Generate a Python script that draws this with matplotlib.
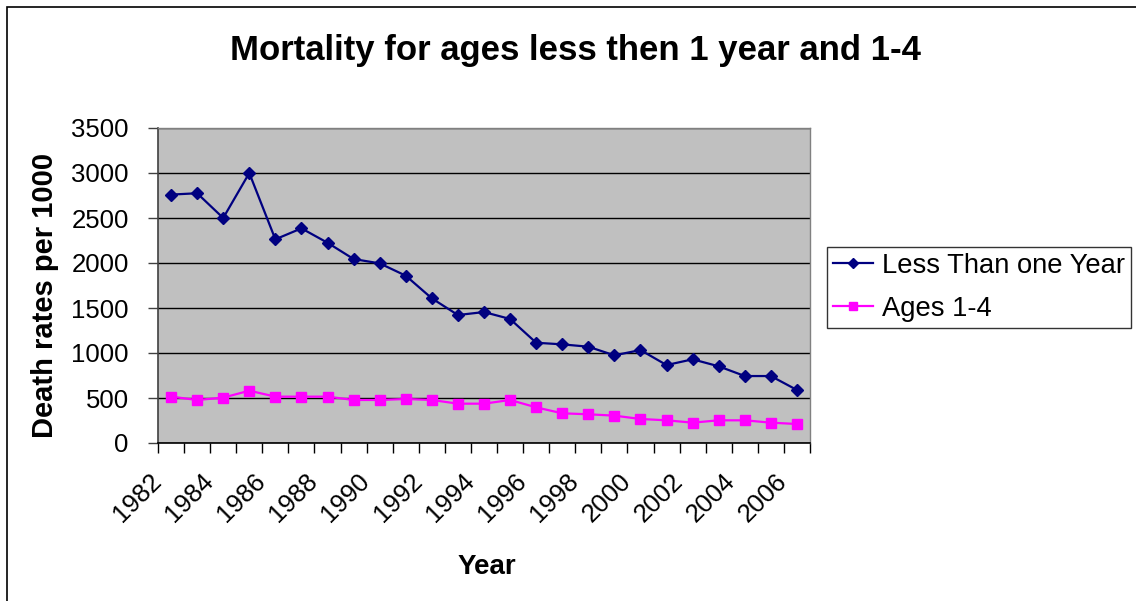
"""Mortality chart: less than 1 year vs ages 1-4 (Excel-style line chart)"""

import numpy as np
import matplotlib
matplotlib.use("Agg")
import matplotlib.pyplot as plt
import matplotlib.transforms as mtransforms
from matplotlib.patches import Rectangle

plt.rcParams.update({
    "font.family": ["Liberation Sans", "DejaVu Sans"],
    "font.size": 18,
})

# ── Data ────────────────────────────────────────────────────────────────────

YEARS = list(range(1982, 2007))

LESS_THAN_ONE = [
    2760, 2775, 2500, 3000, 2263, 2385, 2225, 2044, 1996, 1859,
    1607, 1422, 1455, 1378, 1114, 1096, 1070, 974, 1033, 866,
    930, 852, 744, 744, 589,
]

AGES_1_4 = [
    515, 478, 504, 581, 515, 515, 515, 478, 478, 489,
    478, 437, 437, 478, 396, 330, 319, 304, 267, 252,
    226, 252, 252, 226, 211,
]

Y_TICKS = [0, 500, 1000, 1500, 2000, 2500, 3000, 3500]

W, H = 1136, 601


def main() -> None:
    fig = plt.figure(figsize=(W / 100, H / 100), dpi=100)
    fig.patch.set_facecolor("white")

    # plot area in pixels: x 158..810, y 128..443 (from top)
    ax = fig.add_axes([158 / W, 1 - 443 / H, (810 - 158) / W, (443 - 128) / H])
    ax.set_facecolor("#C0C0C0")

    n = len(YEARS)
    xs = np.arange(n) + 0.5

    ax.plot(xs, LESS_THAN_ONE, "-D", color="#000080", linewidth=1.6,
            markersize=6.5, label="Less Than one Year", zorder=3)
    ax.plot(xs, AGES_1_4, "-s", color="#FF00FF", linewidth=1.6,
            markersize=6.5, label="Ages 1-4", zorder=3)

    ax.set_xlim(0, n)
    ax.set_ylim(0, 3500)

    ax.set_yticks(Y_TICKS)
    ax.set_yticklabels([str(v) for v in Y_TICKS], fontsize=18.5)
    ax.yaxis.grid(True, color="black", linewidth=1.0)
    ax.set_axisbelow(True)
    ax.tick_params(axis="y", direction="out", length=7, width=1,
                   color="#404040", pad=14)

    # category boundaries carry the tick marks, labels sit at every other center
    ax.set_xticks(np.arange(n + 1))
    ax.set_xticklabels([""] * (n + 1))
    ax.set_xticks(xs[::2], minor=True)
    ax.set_xticklabels([str(y) for y in YEARS[::2]], minor=True,
                       rotation=45, ha="right", va="top", fontsize=18.5)
    ax.tick_params(axis="x", which="major", direction="out", length=7,
                   width=1, color="black")
    ax.tick_params(axis="x", which="minor", length=0, pad=19)
    shift = mtransforms.ScaledTranslation(-5 / 100, 0, fig.dpi_scale_trans)
    for lab in ax.get_xticklabels(minor=True):
        lab.set_transform(lab.get_transform() + shift)

    for side in ("top", "right"):
        ax.spines[side].set_color("#808080")
        ax.spines[side].set_linewidth(1.0)
    ax.spines["left"].set_color("#404040")
    ax.spines["bottom"].set_color("black")
    ax.spines["left"].set_linewidth(1.2)
    ax.spines["bottom"].set_linewidth(1.2)

    fig.text(575 / W, 1 - 60 / H, "Mortality for ages less then 1 year and 1-4",
             ha="center", va="baseline", fontsize=25, fontweight="bold")
    fig.text(45 / W, 1 - 295 / H, "Death rates per 1000", rotation=90,
             ha="center", va="center", fontsize=21, fontweight="bold")
    fig.text(487 / W, 1 - 574 / H, "Year", ha="center", va="baseline",
             fontsize=20, fontweight="bold")

    leg = fig.legend(loc="upper left", bbox_to_anchor=(827 / W, 1 - 247 / H),
                     bbox_transform=fig.transFigure, fontsize=19.7,
                     frameon=True, fancybox=False, shadow=False,
                     handlelength=1.45, handletextpad=0.35, borderpad=0.22,
                     labelspacing=0.62, borderaxespad=0, markerscale=0.8)
    leg.get_frame().set_edgecolor("black")
    leg.get_frame().set_linewidth(1.0)

    # outer chart border, clipped by the right and bottom image edges
    fig.add_artist(Rectangle((7 / W, -0.05), 1.2, 1 - 7 / H + 0.05,
                             transform=fig.transFigure, fill=False,
                             edgecolor="black", linewidth=1.2))

    fig.savefig("out.png", dpi=100, facecolor=fig.get_facecolor())
    plt.close(fig)


if __name__ == "__main__":
    main()
